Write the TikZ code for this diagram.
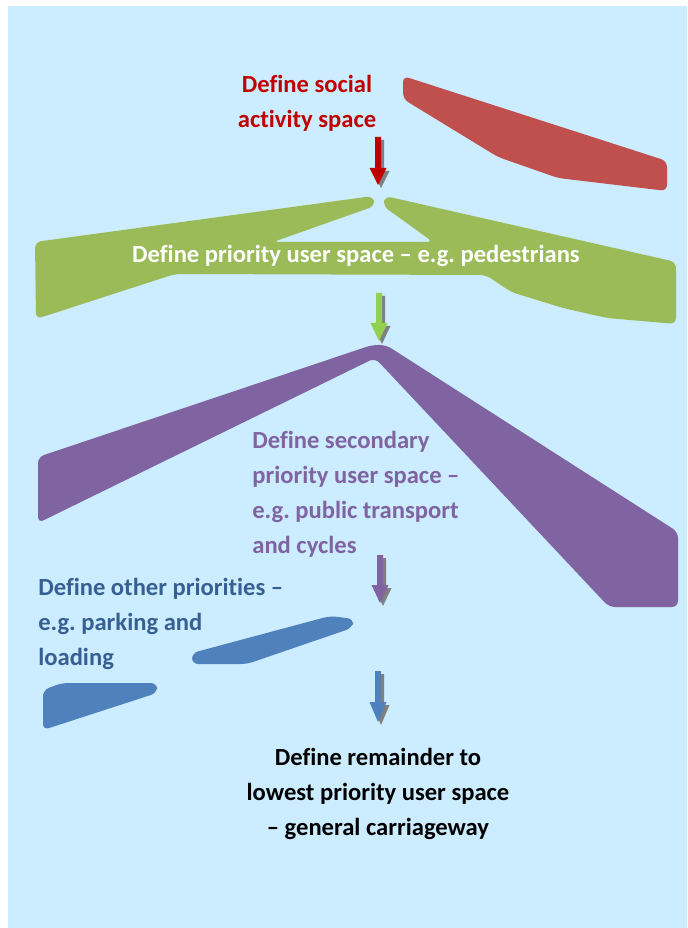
\documentclass[tikz,border=0pt]{standalone}
\usepackage{fontspec}
\setmainfont{Carlito}[Ligatures={NoCommon}]
\frenchspacing
\usetikzlibrary{calc}
\definecolor{skyback}{HTML}{CCECFF}
\definecolor{socialred}{HTML}{C0504D}
\definecolor{socialtext}{HTML}{C00000}
\definecolor{walkgreen}{HTML}{9BBB59}
\definecolor{walkarrow}{HTML}{92D050}
\definecolor{busviolet}{HTML}{8064A2}
\definecolor{parkblue}{HTML}{4F81BD}
\definecolor{parktext}{HTML}{376092}
\tikzset{
  stagetext/.style={font=\bfseries\fontsize{14}{19.85}\selectfont, inner sep=0pt},
  stageshape/.style={rounded corners=3.5pt}
}
\def\stagearrow[#1](#2,#3,#4,#5){%
  \fill[black!50, shift={(3,3)}] (#2-3,#3) -- (#2+3,#3) -- (#2+3,#4) -- (#2+8.5,#4) -- (#2,#5) -- (#2-8.5,#4) -- (#2-3,#4) -- cycle;
  \fill[#1] (#2-3,#3) -- (#2+3,#3) -- (#2+3,#4) -- (#2+8.5,#4) -- (#2,#5) -- (#2-8.5,#4) -- (#2-3,#4) -- cycle;}

\begin{document}
\begin{tikzpicture}[x=0.02cm, y=-0.02cm]
		%%%%% START %%%%%
		\useasboundingbox (0,0) rectangle (687,928);
		\fill[skyback] (8,6) rectangle (687,928);
		
		% social activity
		\fill[socialred, stageshape] (403,76) -- (667,161) -- (667,191) -- (558,178) -- (498,157) -- (403,99) -- cycle;
		\node[stagetext, socialtext, align=center] (social) at (307,103) {Define social\\activity space};
		\stagearrow[socialtext](378,137,168,185)
		
		% priority users
		\fill[walkgreen, stageshape] (35,242) -- (373,196) -- (375,206) -- (273,242) -- (433,242) -- (383,206) -- (385,196)
		  -- (676,262) -- (676,324) -- (607,318) -- (563,308) -- (511,292) -- (486,275) -- (175,274) -- (36,319) -- cycle;
		\node[stagetext, white] (priority) at (356,256) {Define priority user space – e.g. pedestrians};
		\stagearrow[walkarrow](379,293,323,341)
		
		% secondary users
		\fill[busviolet, stageshape] (372,345) -- (38,457) -- (38,523) -- (375,358) -- (609,607) -- (678,607) -- (678,532) -- (386,345) -- cycle;
		\node[stagetext, busviolet, align=left, anchor=west] (secondary) at (252,494) {Define secondary\\priority user space –\\e.g. public transport\\and cycles};
		\stagearrow[busviolet](380,555,585,603)
		
		% other priorities
		\fill[parkblue, stageshape] (192,653) -- (330,616) -- (354,619) -- (352,628) -- (247,664) -- (192,664) -- cycle;
		\fill[parkblue, stageshape] (43,690) -- (62,683) -- (157,683) -- (157,693) -- (43,730) -- cycle;
		\node[stagetext, parktext, align=left, anchor=west] (other) at (38,624) {Define other priorities –\\e.g. parking and\\loading};
		\stagearrow[parkblue](378,671,702,722)
		
		% remainder
		\node[stagetext, black, align=center] (remainder) at (378,794) {Define remainder to\\lowest priority user space\\– general carriageway};
		%%%%% END %%%%%
\end{tikzpicture}
\end{document}
